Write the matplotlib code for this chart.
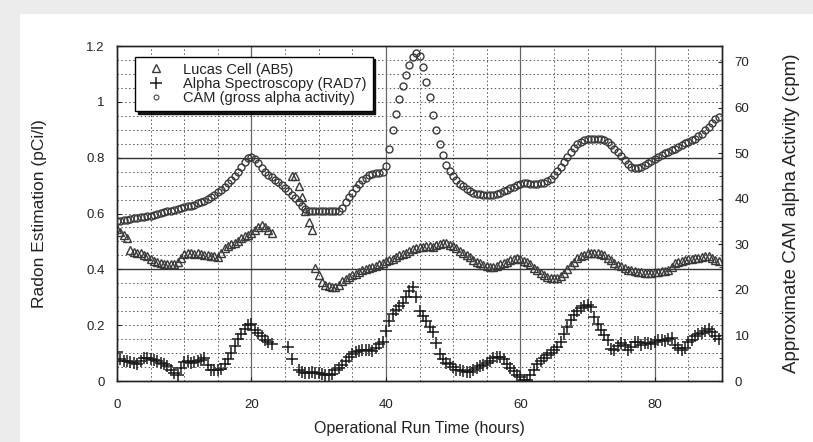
import numpy as np
import matplotlib
matplotlib.use("Agg")
import matplotlib.pyplot as plt
from matplotlib.patches import Rectangle

plt.rcParams['font.family'] = ['Liberation Sans', 'DejaVu Sans']

nan = np.nan

# sampling every half hour, 0 .. 89.5 h
hours = np.arange(0, 90, 0.5)

# CAM gross alpha activity (cpm, right axis)
cam_cpm = [
    35.2, 35.2, 35.3, 35.4, 35.5, 35.7, 35.8, 35.9, 36.0, 36.2,
    36.3, 36.5, 36.7, 36.8, 37.0, 37.2, 37.3, 37.5, 37.7, 37.9,
    38.1, 38.3, 38.4, 38.7, 39.0, 39.3, 39.6, 39.9, 40.4, 40.9,
    41.5, 42.0, 42.6, 43.4, 44.2, 45.0, 45.8, 46.9, 48.0, 48.9,
    49.1, 48.6, 47.8, 46.8, 45.8, 45.2, 44.7, 44.2, 43.6, 43.0,
    42.3, 41.6, 40.9, 40.1, 39.3, 38.5, 37.7, 37.4, 37.4, 37.3,
    37.3, 37.3, 37.3, 37.3, 37.3, 37.3, 37.4, 38.0, 39.2, 40.3,
    41.3, 42.3, 43.2, 44.0, 44.6, 45.1, 45.5, 45.6, 45.6, 45.8,
    47.2, 51.0, 55.0, 58.6, 61.8, 64.8, 67.2, 69.3, 71.0, 72.0,
    71.2, 69.0, 65.6, 62.3, 58.3, 55.0, 52.0, 49.5, 47.5, 46.0,
    45.0, 44.1, 43.3, 42.7, 42.2, 41.7, 41.3, 41.1, 41.0, 40.9,
    40.8, 40.8, 40.8, 41.0, 41.3, 41.6, 41.9, 42.3, 42.6, 42.9,
    43.2, 43.4, 43.4, 43.3, 43.2, 43.3, 43.4, 43.5, 43.9, 44.4,
    45.1, 46.0, 47.0, 48.0, 49.2, 50.3, 51.2, 51.9, 52.5, 52.9,
    53.1, 53.2, 53.2, 53.2, 53.1, 52.8, 52.4, 51.8, 50.9, 50.2,
    49.4, 48.5, 47.6, 47.0, 46.7, 46.7, 47.0, 47.4, 47.8, 48.2,
    48.8, 49.2, 49.6, 50.0, 50.3, 50.6, 51.0, 51.4, 51.8, 52.2,
    52.5, 52.8, 53.2, 53.7, 54.3, 55.0, 55.8, 56.6, 57.5, 58.0,
]

# Lucas cell (AB5), pCi/l
lucas = [
    0.543, 0.535, 0.523, 0.512, 0.470, 0.463, 0.460, 0.457, 0.452, 0.447,
    0.436, 0.430, 0.425, 0.421, 0.420, 0.419, 0.419, 0.420, 0.425, 0.440,
    0.455, 0.458, 0.458, 0.456, 0.457, 0.455, 0.452, 0.450, 0.448, 0.446,
    0.445, 0.460, 0.475, 0.482, 0.489, 0.495, 0.503, 0.512, 0.518, 0.524,
    0.530, 0.540, 0.552, 0.560, 0.553, 0.542, 0.530, nan, nan, nan,
    nan, nan, 0.735, 0.735, 0.700, 0.660, 0.610, 0.570, 0.540, 0.405,
    0.380, 0.355, 0.343, 0.340, 0.338, 0.338, 0.345, 0.358, 0.365, 0.372,
    0.378, 0.385, 0.392, 0.398, 0.402, 0.405, 0.408, 0.412, 0.418, 0.424,
    0.430, 0.433, 0.438, 0.445, 0.450, 0.455, 0.458, 0.465, 0.472, 0.476,
    0.479, 0.481, 0.483, 0.482, 0.481, 0.486, 0.492, 0.495, 0.493, 0.488,
    0.482, 0.475, 0.467, 0.459, 0.451, 0.443, 0.435, 0.427, 0.421, 0.415,
    0.411, 0.409, 0.409, 0.413, 0.419, 0.424, 0.428, 0.433, 0.437, 0.439,
    0.436, 0.431, 0.427, 0.418, 0.406, 0.396, 0.386, 0.378, 0.373, 0.370,
    0.368, 0.369, 0.375, 0.386, 0.400, 0.414, 0.428, 0.440, 0.448, 0.453,
    0.457, 0.459, 0.460, 0.459, 0.456, 0.450, 0.442, 0.433, 0.424, 0.417,
    0.411, 0.404, 0.399, 0.396, 0.393, 0.391, 0.389, 0.387, 0.386, 0.387,
    0.389, 0.391, 0.393, 0.395, 0.398, 0.410, 0.421, 0.427, 0.431, 0.433,
    0.436, 0.438, 0.440, 0.442, 0.444, 0.446, 0.448, 0.442, 0.435, 0.430,
]

# Alpha spectroscopy (RAD7), pCi/l
rad7 = [
    0.105, 0.080, 0.072, 0.070, 0.068, 0.063, 0.060, 0.072, 0.081, 0.082,
    0.078, 0.075, 0.072, 0.065, 0.060, 0.052, 0.040, 0.028, 0.020, 0.045,
    0.068, 0.070, 0.065, 0.068, 0.070, 0.076, 0.081, 0.058, 0.040, 0.038,
    0.040, 0.042, 0.060, 0.078, 0.100, 0.125, 0.150, 0.168, 0.185, 0.200,
    0.205, 0.183, 0.172, 0.160, 0.148, 0.140, 0.133, nan, nan, nan,
    nan, 0.123, 0.080, nan, 0.040, 0.033, 0.028, 0.030, 0.033, 0.030,
    0.028, 0.025, 0.021, 0.022, 0.025, 0.038, 0.045, 0.058, 0.070, 0.085,
    0.095, 0.103, 0.107, 0.110, 0.110, 0.111, 0.108, 0.120, 0.132, 0.140,
    0.178, 0.215, 0.240, 0.255, 0.268, 0.278, 0.300, 0.322, 0.338, 0.300,
    0.250, 0.232, 0.215, 0.195, 0.175, 0.135, 0.098, 0.080, 0.065, 0.060,
    0.050, 0.040, 0.038, 0.036, 0.033, 0.034, 0.040, 0.048, 0.052, 0.058,
    0.063, 0.072, 0.083, 0.087, 0.085, 0.078, 0.062, 0.048, 0.035, 0.022,
    0.014, 0.005, 0.005, 0.022, 0.040, 0.060, 0.072, 0.083, 0.092, 0.100,
    0.110, 0.122, 0.140, 0.168, 0.195, 0.218, 0.235, 0.250, 0.262, 0.270,
    0.272, 0.265, 0.230, 0.205, 0.183, 0.165, 0.147, 0.115, 0.110, 0.125,
    0.135, 0.130, 0.112, 0.123, 0.138, 0.140, 0.128, 0.136, 0.135, 0.133,
    0.140, 0.146, 0.147, 0.142, 0.150, 0.153, 0.130, 0.117, 0.111, 0.120,
    0.140, 0.148, 0.160, 0.170, 0.172, 0.180, 0.188, 0.175, 0.160, 0.150,
]

x_ticks = [0, 20, 40, 60, 80]
left_ticks = [0, 0.2, 0.4, 0.6, 0.8, 1.0, 1.2]
left_labels = ['0', '0.2', '0.4', '0.6', '0.8', '1', '1.2']
right_ticks = [0, 10, 20, 30, 40, 50, 60, 70]

ink = '#222222'

fig = plt.figure(figsize=(8.13, 4.42), dpi=100, facecolor='#ebebeb')
fig.patches.append(Rectangle((20 / 813, 0), 1, 1 - 14 / 442, transform=fig.transFigure,
                             facecolor='white', edgecolor='none', zorder=-10))

ax = fig.add_axes([117 / 813, 61 / 442, 605 / 813, 335 / 442])
ax.set_facecolor('white')
ax2 = ax.twinx()

ax.set_xlim(0, 90)
ax.set_ylim(0, 1.2)
ax2.set_ylim(0, 73.5)

# grid: dotted minor lines, a few solid major lines
for xv in np.arange(5, 90, 5):
    ax.axvline(xv, color='#555555', lw=0.7, ls=(0, (1.5, 2.5)), zorder=0.5)
for yv in np.arange(0.05, 1.2, 0.05):
    ax.axhline(yv, color='#555555', lw=0.7, ls=(0, (1.5, 2.5)), zorder=0.5)
for xv in [20, 40, 60, 80]:
    ax.axvline(xv, color='#666666', lw=0.9, zorder=0.6)
for yv in [0.4, 0.8]:
    ax.axhline(yv, color='#333333', lw=1.0, zorder=0.6)

ax.plot(hours, lucas, ls='none', marker='^', ms=6, mfc='none', mec='#3a3a3a',
        mew=1.0, label='Lucas Cell (AB5)', zorder=3)
ax.plot(hours, rad7, ls='none', marker='+', ms=8, mec='#1a1a1a', mew=1.1,
        label='Alpha Spectroscopy (RAD7)', zorder=3)
ax2.plot(hours, cam_cpm, ls='none', marker='o', ms=5, mfc='none', mec='#3a3a3a',
         mew=1.0, zorder=3)
# proxy so the CAM entry sits in the same legend
ax.plot([], [], ls='none', marker='o', ms=3.5, mfc='none', mec='#444444', mew=0.8,
        label='CAM (gross alpha activity)')

ax.set_xticks(x_ticks)
ax.set_yticks(left_ticks)
ax.set_yticklabels(left_labels)
ax2.set_yticks(right_ticks)
ax2.set_yticks(np.arange(5, 73, 5), minor=True)
ax.tick_params(direction='in', labelsize=9.5, colors=ink, length=3, pad=9)
ax.tick_params(axis='x', pad=13)
ax2.tick_params(direction='in', labelsize=9.5, colors=ink, length=3, pad=9)
ax2.tick_params(which='minor', direction='in', length=2, colors=ink)

for a in (ax, ax2):
    for s in a.spines.values():
        s.set_color(ink)
        s.set_linewidth(1.0)

ax.set_xlabel('Operational Run Time (hours)', fontsize=11.5, color=ink, labelpad=7)
ax.set_ylabel('Radon Estimation (pCi/l)', fontsize=12.5, color=ink, labelpad=28)
ax2.set_ylabel('Approximate CAM alpha Activity (cpm)', fontsize=13.5, color=ink, labelpad=24)

leg = ax2.legend(*ax.get_legend_handles_labels(), loc='upper left',
                 bbox_to_anchor=(0.03, 0.968), borderaxespad=0, fontsize=10.5,
                 frameon=True, fancybox=False, shadow={'color': 'black', 'alpha': 0.9},
                 handletextpad=0.9, borderpad=0.4, labelspacing=0.02, handlelength=2.0)
leg.get_frame().set_edgecolor('black')
leg.get_frame().set_linewidth(1.0)
leg.set_zorder(10)
for t in leg.get_texts():
    t.set_color(ink)

fig.savefig('out.png', dpi=100, facecolor=fig.get_facecolor())
